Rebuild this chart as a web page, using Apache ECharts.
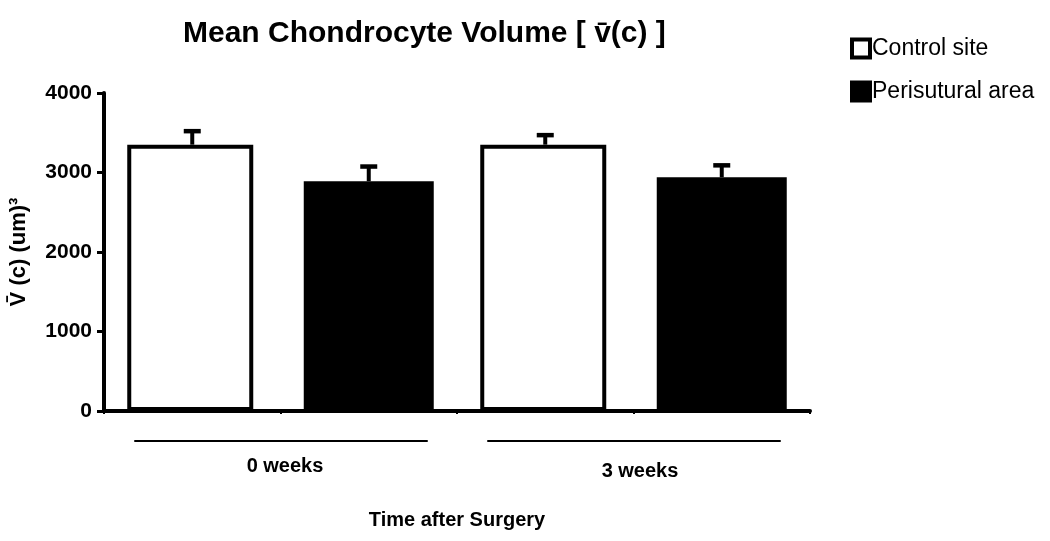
<!DOCTYPE html>
<html><head><meta charset="utf-8">
<script src="https://cdn.jsdelivr.net/npm/echarts@6/dist/echarts.min.js"></script>
<style>html,body{margin:0;padding:0;background:#fff}#c{width:1050px;height:541px}</style>
</head><body><div id="c"></div>
<script>
const categories = ['0 weeks control', '0 weeks perisutural', '3 weeks control', '3 weeks perisutural'];
const groupLabels = ['0 weeks', '3 weeks'];
const seriesNames = ['Control site', 'Perisutural area'];
const controlValues = [3350, '-', 3350, '-'];
const controlErrorTop = [3520, '-', 3470, '-'];
const periValues = ['-', 2890, '-', 2940];
const periErrorTop = ['-', 3075, '-', 3090];
const yTickValues = [0, 1000, 2000, 3000, 4000];

const FONT = '"Liberation Sans", Arial, sans-serif';

function errData(vals, tops) {
  const out = [];
  vals.forEach((v, i) => { if (v !== '-') out.push([i, v, tops[i]]); });
  return out;
}

function renderErr(params, api) {
  const base = api.coord([api.value(0), api.value(1)]);
  const top = api.coord([api.value(0), api.value(2)]);
  const x = base[0];
  return {
    type: 'group',
    children: [
      { type: 'line', shape: { x1: x, y1: base[1], x2: x, y2: top[1] }, style: { stroke: '#000', lineWidth: 4 } },
      { type: 'line', shape: { x1: x - 8.5, y1: top[1], x2: x + 8.5, y2: top[1] }, style: { stroke: '#000', lineWidth: 4.5 } }
    ]
  };
}

const chart = echarts.init(document.getElementById('c'), null, { renderer: 'canvas' });
const option = {
  animation: false,
  backgroundColor: '#fff',
  title: {
    text: 'Mean Chondrocyte Volume [ v\u0304(c) ]',
    left: 178, top: 14,
    textStyle: { fontFamily: FONT, fontSize: 30, fontWeight: 'bold', color: '#000' }
  },
  legend: {
    orient: 'vertical', left: 845, top: 32,
    itemWidth: 18, itemHeight: 18, itemGap: 20,
    icon: 'rect',
    textStyle: { fontFamily: FONT, fontSize: 23, color: '#000', padding: [0, 0, 0, -3] },
    data: [
      { name: seriesNames[0], itemStyle: { color: '#fff', borderColor: '#000', borderWidth: 4 } },
      { name: seriesNames[1], itemStyle: { color: '#000', borderColor: '#000', borderWidth: 4 } }
    ]
  },
  grid: { left: 104, right: 240, top: 93, bottom: 130 },
  xAxis: {
    type: 'category', data: categories,
    axisLine: { lineStyle: { color: '#000', width: 4 } },
    axisTick: { show: true, length: 3, lineStyle: { color: '#000', width: 2 } },
    axisLabel: { show: false },
    name: 'Time after Surgery', nameLocation: 'middle', nameGap: 99,
    nameTextStyle: { fontFamily: FONT, fontSize: 20, fontWeight: 'bold', color: '#000' }
  },
  yAxis: {
    type: 'value', min: yTickValues[0], max: yTickValues[yTickValues.length - 1], interval: 1000,
    axisLine: { show: true, lineStyle: { color: '#000', width: 4 } },
    axisTick: { show: true, length: 7, lineStyle: { color: '#000', width: 3 } },
    splitLine: { show: false },
    axisLabel: { fontFamily: FONT, fontSize: 21, fontWeight: 'bold', color: '#000', margin: 12,
      formatter: v => String(v) },
    name: 'V\u0304 (c) (um)\u00B3', nameLocation: 'middle', nameGap: 74,
    nameTextStyle: { fontFamily: FONT, fontSize: 22, fontWeight: 'bold', color: '#000' }
  },
  series: [
    { name: seriesNames[0], type: 'bar', data: controlValues, barWidth: 126, barGap: '-100%',
      itemStyle: { color: '#fff', borderColor: '#000', borderWidth: 4 } },
    { name: seriesNames[1], type: 'bar', data: periValues, barWidth: 130, barGap: '-100%',
      itemStyle: { color: '#000' } },
    { type: 'custom', data: errData(controlValues, controlErrorTop), renderItem: renderErr, z: 5 },
    { type: 'custom', data: errData(periValues, periErrorTop), renderItem: renderErr, z: 5 }
  ]
};
chart.setOption(option);

const y0 = chart.convertToPixel({ yAxisIndex: 0 }, 0);
const graphics = [];
groupLabels.forEach((lab, g) => {
  const xa = chart.convertToPixel({ xAxisIndex: 0 }, categories[2 * g]) - 58;
  const xb = chart.convertToPixel({ xAxisIndex: 0 }, categories[2 * g + 1]) + 59;
  graphics.push({ type: 'line', shape: { x1: xa, y1: y0 + 30, x2: xb, y2: y0 + 30 }, style: { stroke: '#000', lineWidth: 2 } });
  graphics.push({ type: 'text', x: (xa + xb) / 2 + (g === 1 ? 6 : 4), y: y0 + 55 + (g === 1 ? 5 : 0),
    style: { text: lab, fontFamily: FONT, fontSize: 20, fontWeight: 'bold', fill: '#000', align: 'center', verticalAlign: 'middle' } });
});
chart.setOption({ graphic: graphics });
</script>
</body></html>
